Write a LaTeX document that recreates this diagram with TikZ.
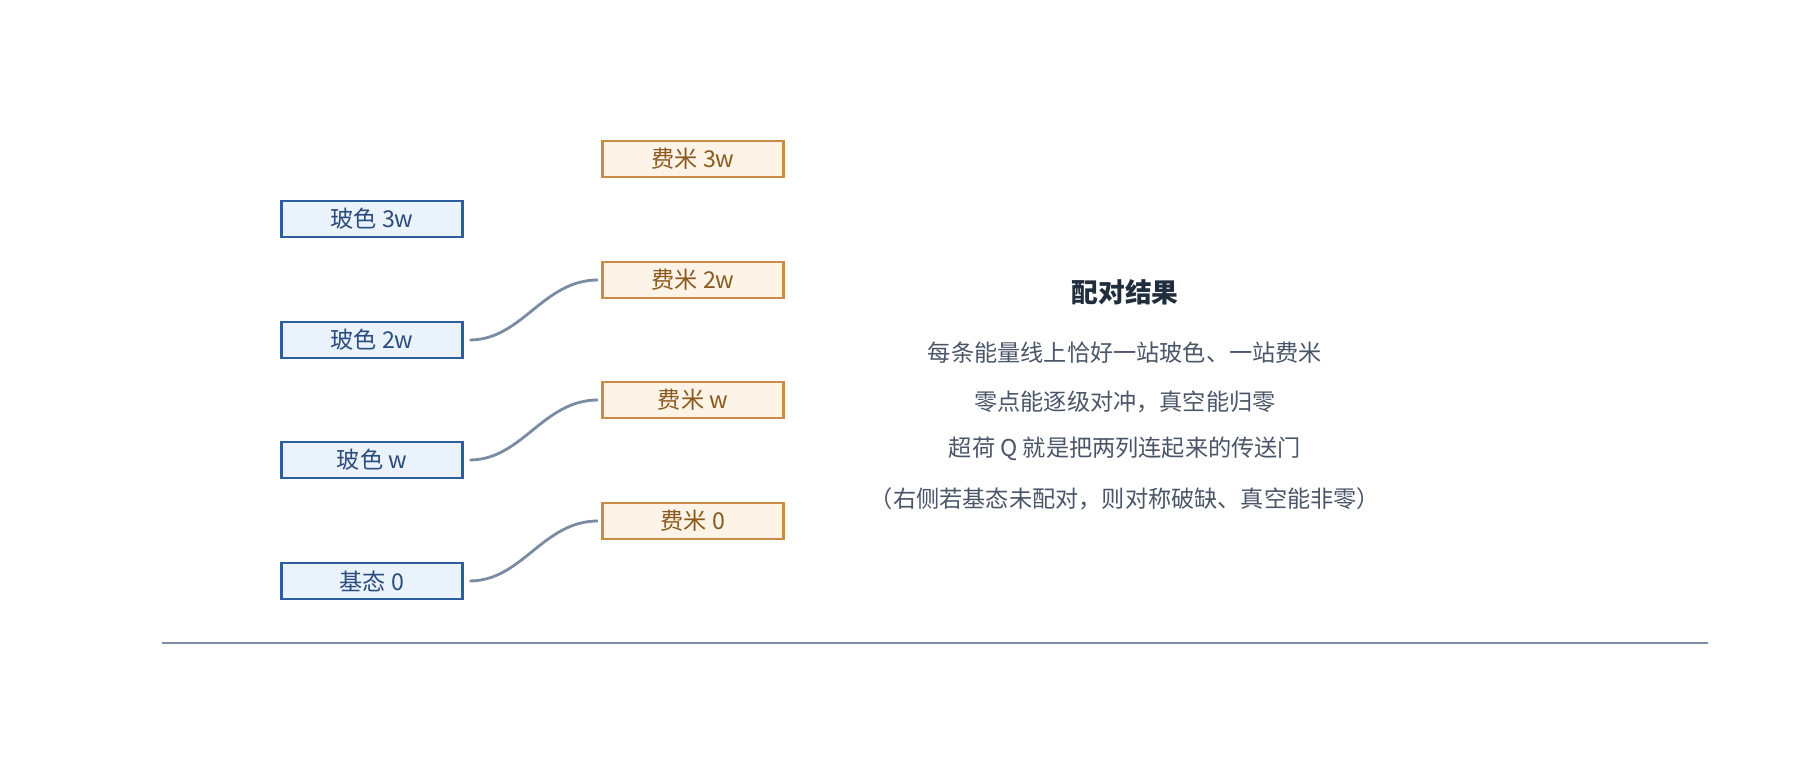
\documentclass[tikz,border=0pt]{standalone}
\usepackage{fontspec}
\setmainfont{Noto Sans CJK SC}
\usetikzlibrary{positioning}
\definecolor{bosefill}{HTML}{EAF2FB}
\definecolor{bosedraw}{HTML}{2F5E9E}
\definecolor{bosetext}{HTML}{2B4C7E}
\definecolor{fermifill}{HTML}{FDF3E7}
\definecolor{fermidraw}{HTML}{C98B45}
\definecolor{fermitext}{HTML}{8A5A1E}
\definecolor{linkcol}{HTML}{7A8BA3}
\definecolor{notecol}{HTML}{4A5568}
\definecolor{titlecol}{HTML}{1F2D3D}
\begin{document}
\begin{tikzpicture}[font=\fontsize{6.6pt}{8pt}\selectfont, semithick,
    boson/.style={draw=bosedraw, fill=bosefill, text=bosetext, rectangle, minimum width=1.81cm, minimum height=0.36cm, inner sep=0pt},
    fermion/.style={draw=fermidraw, fill=fermifill, text=fermitext, rectangle, minimum width=1.81cm, minimum height=0.36cm, inner sep=0pt},
    link/.style={draw=linkcol, thick, out=0, in=180, shorten <=0.06cm, shorten >=0.035cm},
    note/.style={text=notecol}]

    \useasboundingbox (0,0) rectangle (18,-7.6);

    \node[boson] (b3) at (3.72,-2.19) {玻色 3w};
    \node[boson] (b2) at (3.72,-3.40) {玻色 2w};
    \node[boson] (b1) at (3.72,-4.60) {玻色 w};
    \node[boson] (b0) at (3.72,-5.81) {基态 0};

    \node[fermion] (f3) at (6.93,-1.59) {费米 3w};
    \node[fermion] (f2) at (6.93,-2.80) {费米 2w};
    \node[fermion] (f1) at (6.93,-4.00) {费米 w};
    \node[fermion] (f0) at (6.93,-5.21) {费米 0};

    \path (b2.east) edge[link] (f2.west)
          (b1.east) edge[link] (f1.west)
          (b0.east) edge[link] (f0.west);

    \coordinate (axl) at (1.62,-6.43);
    \coordinate (axr) at (17.08,-6.43);
    \draw[linkcol, thick] (axl) -- (axr);

    \node[text=titlecol, font=\fontsize{7.6pt}{9pt}\selectfont\bfseries] (title) at (11.25,-2.92) {配对结果};
    \node[note] (n1) at (11.25,-3.53) {每条能量线上恰好一站玻色、一站费米};
    \node[note] (n2) at (11.25,-4.02) {零点能逐级对冲，真空能归零};
    \node[note] (n3) at (11.25,-4.49) {超荷 Q 就是把两列连起来的传送门};
    \node[note] (n4) at (11.25,-4.99) {（右侧若基态未配对，则对称破缺、真空能非零）};
\end{tikzpicture}
\end{document}
